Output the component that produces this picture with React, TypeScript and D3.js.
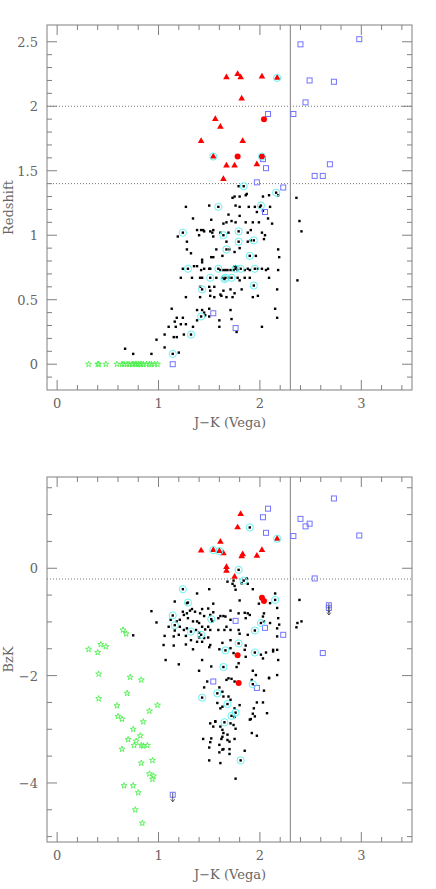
import React from 'react';
import * as d3 from 'd3';

// ---------- data (J-K, value) ----------
const topStarsJK = [0.31,0.40,0.41,0.48,0.59,0.64,0.66,0.69,0.71,0.74,0.75,0.77,0.78,0.80,0.82,0.83,0.85,0.88,0.91,0.93,0.96,0.99];
const topTriangles = [[1.67,2.225],[1.78,2.25],[1.81,2.225],[2.02,2.23],[2.17,2.22],[1.82,2.06],[1.56,1.90],[1.61,1.84],[1.42,1.73],[1.83,1.73],[1.54,1.61],[1.67,1.54],[1.75,1.54],[1.97,1.55],[1.64,1.435]];
const topRedCircles = [[2.04,1.90],[1.78,1.61],[2.02,1.61]];
const topSquares = [[2.40,2.48],[2.98,2.52],[2.49,2.20],[2.73,2.19],[2.45,2.03],[2.08,1.94],[2.33,1.94],[2.03,1.59],[2.06,1.52],[2.69,1.55],[2.54,1.46],[2.62,1.46],[1.97,1.41],[2.23,1.37],[2.05,1.18],[1.54,0.395],[1.76,0.28],[1.14,0.0]];
const topBlack = [[1.84,1.38],[1.79,1.38],[1.87,1.32],[1.86,1.31],[1.80,1.30],[1.75,1.30],[1.73,1.29],[2.09,1.31],[2.03,1.30],[2.16,1.33],[2.18,1.31],[2.36,1.29],[1.27,1.22],[1.50,1.23],[1.59,1.22],[1.76,1.23],[1.80,1.22],[1.89,1.22],[1.95,1.22],[2.00,1.22],[2.01,1.23],[2.10,1.22],[2.03,1.19],[1.97,1.18],[1.69,1.16],[1.80,1.15],[1.34,1.13],[1.52,1.12],[1.72,1.11],[1.67,1.10],[1.76,1.10],[1.64,1.09],[2.08,1.13],[1.86,1.10],[1.93,1.10],[1.99,1.10],[2.12,1.09],[2.39,1.11],[1.24,1.02],[1.38,1.04],[1.42,1.04],[1.44,1.04],[1.45,1.03],[1.51,1.03],[1.54,1.04],[1.53,1.02],[1.61,1.02],[1.64,1.00],[1.69,1.02],[1.79,1.03],[1.88,1.02],[1.91,1.04],[2.02,1.02],[2.05,1.00],[2.04,0.97],[2.41,1.03],[1.19,0.99],[1.40,1.00],[1.54,0.99],[1.79,0.95],[1.94,0.96],[1.91,0.96],[1.88,0.95],[1.67,0.95],[1.28,0.95],[2.18,0.89],[1.28,0.89],[1.57,0.89],[1.67,0.89],[1.70,0.89],[1.75,0.87],[1.80,0.90],[1.32,0.86],[1.90,0.84],[1.96,0.84],[2.19,0.83],[1.63,0.84],[1.52,0.83],[1.54,0.83],[1.43,0.81],[1.43,0.79],[1.38,0.76],[1.35,0.76],[1.75,0.76],[1.77,0.75],[1.29,0.74],[1.24,0.74],[1.42,0.73],[1.45,0.74],[1.50,0.74],[1.51,0.74],[1.59,0.74],[1.61,0.73],[1.64,0.73],[1.66,0.73],[1.68,0.73],[1.71,0.73],[1.74,0.73],[1.76,0.74],[1.81,0.74],[1.85,0.73],[1.90,0.73],[1.95,0.74],[1.98,0.74],[2.02,0.74],[2.06,0.73],[2.08,0.74],[2.18,0.73],[1.88,0.74],[1.78,0.73],[1.22,0.67],[1.33,0.67],[1.41,0.67],[1.43,0.67],[1.51,0.67],[1.57,0.67],[1.63,0.67],[1.66,0.67],[1.65,0.66],[1.69,0.67],[1.72,0.67],[1.78,0.67],[1.85,0.67],[1.90,0.67],[2.09,0.67],[2.37,0.65],[1.80,0.65],[1.43,0.58],[1.50,0.60],[1.55,0.60],[1.41,0.60],[1.51,0.57],[1.64,0.57],[1.71,0.58],[1.75,0.55],[1.82,0.58],[1.94,0.61],[2.17,0.58],[1.27,0.52],[1.41,0.52],[1.51,0.53],[1.55,0.52],[1.62,0.53],[1.67,0.52],[1.73,0.52],[1.93,0.52],[1.98,0.53],[1.61,0.54],[1.13,0.43],[1.38,0.42],[1.43,0.42],[1.45,0.40],[1.50,0.43],[1.71,0.42],[1.46,0.38],[1.42,0.37],[1.38,0.34],[1.50,0.37],[1.60,0.34],[1.18,0.36],[1.24,0.36],[1.16,0.33],[1.22,0.31],[1.27,0.31],[1.17,0.29],[1.10,0.29],[1.34,0.29],[1.60,0.29],[1.72,0.35],[2.15,0.43],[2.17,0.36],[2.02,0.29],[1.77,0.25],[1.06,0.23],[1.32,0.23],[1.25,0.23],[1.18,0.21],[1.15,0.21],[0.98,0.19],[1.06,0.13],[0.93,0.08],[1.14,0.08],[1.20,0.09],[0.67,0.12],[0.75,0.08]];
const topCyan = [[1.84,1.38],[2.16,1.33],[1.59,1.22],[2.01,1.23],[1.24,1.02],[1.64,1.00],[1.79,1.03],[1.79,0.95],[1.94,0.96],[1.67,0.89],[1.90,0.84],[1.29,0.74],[1.59,0.74],[1.76,0.74],[1.81,0.74],[1.95,0.74],[1.51,0.67],[1.66,0.67],[1.65,0.66],[1.72,0.67],[1.43,0.58],[1.94,0.61],[1.42,0.37],[1.32,0.23],[1.14,0.08],[2.17,2.22],[1.54,1.61],[2.02,1.61]];

const botStars = [[0.65,-1.15],[0.68,-1.22],[0.31,-1.51],[0.40,-1.57],[0.43,-1.42],[0.48,-1.46],[0.41,-1.97],[0.72,-2.03],[0.83,-2.08],[0.69,-2.33],[0.41,-2.43],[0.59,-2.56],[0.99,-2.55],[0.91,-2.66],[0.60,-2.76],[0.64,-2.81],[0.85,-2.86],[0.75,-3.00],[0.82,-3.12],[0.70,-3.19],[0.78,-3.22],[0.76,-3.30],[0.83,-3.30],[0.85,-3.31],[0.89,-3.30],[0.64,-3.37],[0.83,-3.63],[0.94,-3.58],[0.91,-3.83],[0.95,-3.87],[0.94,-3.93],[0.66,-4.05],[0.75,-4.05],[0.80,-4.18],[0.77,-4.50],[0.84,-4.75]];
const botTriangles = [[1.81,1.01],[1.78,0.76],[1.61,0.49],[1.42,0.33],[1.54,0.34],[1.60,0.32],[1.64,0.28],[1.83,0.26],[1.82,0.22],[2.02,0.34],[1.97,0.23],[2.17,0.55],[1.67,0.02],[1.67,-0.05],[1.75,-0.16]];
const botRedCircles = [[2.02,-0.55],[2.04,-0.61],[1.78,-1.62],[1.79,-2.14]];
const botSquares = [[2.08,1.11],[2.03,0.95],[2.06,0.66],[2.33,0.60],[2.40,0.92],[2.49,0.83],[2.45,0.78],[2.73,1.30],[2.98,0.61],[2.54,-0.19],[1.76,-0.98],[2.05,-1.11],[2.23,-1.24],[2.62,-1.58],[1.54,-2.11],[1.97,-2.23]];
const botLimits = [[2.68,-0.69],[2.68,-0.74],[1.14,-4.22]];
const botBlack = [[1.68,-0.25],[1.73,-0.29],[1.75,-0.33],[1.76,-0.40],[1.82,-0.28],[1.88,-0.29],[1.93,-0.39],[1.24,-0.39],[1.38,-0.47],[1.50,-0.39],[1.16,-0.62],[1.29,-0.64],[1.28,-0.65],[2.15,-0.59],[2.15,-0.47],[1.80,-0.60],[2.10,-0.65],[2.17,-0.74],[1.99,-0.66],[0.93,-0.80],[1.14,-0.88],[0.98,-1.01],[1.16,-1.06],[1.24,-0.81],[1.33,-0.76],[1.43,-0.76],[1.28,-0.84],[1.31,-0.79],[1.36,-0.81],[1.41,-0.84],[1.45,-0.89],[1.49,-0.75],[1.54,-0.66],[1.54,-0.82],[1.51,-0.87],[1.52,-0.95],[1.53,-0.99],[1.59,-0.93],[1.61,-0.89],[1.64,-0.89],[1.66,-0.90],[1.71,-0.79],[1.71,-0.96],[1.79,-0.84],[1.85,-0.83],[1.88,-0.84],[1.90,-0.87],[1.86,-0.93],[2.04,-0.84],[2.03,-0.90],[2.01,-1.02],[2.04,-0.99],[2.10,-1.02],[2.17,-1.12],[2.18,-0.93],[1.95,-1.16],[1.88,-1.24],[1.79,-1.15],[1.80,-1.22],[1.71,-1.15],[1.67,-1.09],[1.65,-1.15],[1.59,-1.15],[1.51,-1.15],[1.49,-1.09],[1.46,-1.14],[1.43,-1.09],[1.40,-1.02],[1.38,-0.99],[1.34,-0.99],[1.29,-0.93],[1.25,-0.87],[1.21,-0.96],[1.18,-0.99],[1.12,-0.96],[1.10,-1.09],[1.21,-1.09],[1.25,-1.15],[1.28,-1.12],[1.32,-1.18],[1.37,-1.15],[1.40,-1.20],[1.42,-1.24],[1.40,-1.29],[1.38,-1.37],[1.43,-1.37],[1.45,-1.30],[1.49,-1.29],[1.51,-1.43],[1.34,-1.51],[1.32,-1.34],[1.27,-1.26],[1.20,-1.24],[1.15,-1.27],[1.16,-1.16],[1.06,-1.26],[1.05,-1.43],[0.75,-1.25],[1.07,-1.71],[1.20,-1.79],[1.43,-1.71],[1.40,-1.91],[1.52,-1.83],[1.64,-1.84],[1.66,-1.53],[1.60,-1.51],[1.63,-1.39],[1.71,-1.34],[1.71,-1.49],[1.74,-1.58],[1.79,-1.40],[1.77,-1.84],[1.79,-1.77],[1.86,-1.65],[1.85,-1.52],[1.86,-1.44],[1.95,-1.57],[2.01,-1.61],[2.03,-1.68],[2.06,-1.57],[2.13,-1.52],[2.17,-1.52],[2.18,-1.71],[2.17,-1.99],[2.09,-2.04],[1.93,-1.91],[1.96,-1.99],[1.93,-2.16],[2.04,-2.28],[1.92,-2.08],[2.07,-2.70],[1.97,-2.50],[1.94,-2.61],[1.95,-2.76],[1.90,-2.82],[1.97,-3.12],[1.92,-3.07],[1.76,-2.69],[1.72,-2.75],[1.68,-2.53],[1.58,-2.33],[1.43,-2.41],[1.48,-2.11],[1.60,-2.22],[1.63,-2.30],[1.67,-2.08],[1.69,-2.05],[1.72,-2.06],[1.75,-2.11],[1.64,-2.39],[1.69,-2.39],[1.71,-2.45],[1.75,-2.61],[1.63,-2.58],[1.58,-2.51],[1.71,-2.89],[1.65,-2.87],[1.51,-2.89],[1.54,-2.95],[1.61,-2.95],[1.64,-3.07],[1.63,-3.14],[1.68,-3.10],[1.52,-3.17],[1.74,-2.92],[1.75,-3.18],[1.68,-3.20],[1.70,-3.23],[1.62,-3.18],[1.44,-3.18],[1.51,-3.24],[1.60,-3.29],[1.64,-3.37],[1.63,-3.38],[1.60,-3.43],[1.70,-3.37],[1.70,-3.46],[1.50,-3.34],[1.85,-3.40],[1.81,-3.58],[1.50,-3.58],[1.61,-3.63],[1.76,-3.92],[1.80,-2.55],[1.61,-2.61],[1.75,-2.77],[1.56,-2.86],[1.76,-2.99],[1.63,-3.01],[2.03,-2.50],[1.91,-2.81],[1.93,-2.71],[1.90,0.76],[1.79,-0.03],[1.84,-0.23],[2.39,-0.59],[2.36,-1.10],[2.37,-1.02],[2.41,-0.99],[2.19,-1.05],[2.17,-1.27],[2.13,-1.55],[2.09,-2.05],[1.87,-0.19],[1.74,-0.23],[1.45,-2.22],[1.56,-2.85],[1.15,-1.44],[1.27,-1.42],[1.50,-1.47]];
const botCyan = [[1.90,0.76],[1.54,0.34],[1.60,0.32],[2.17,0.55],[1.79,-0.03],[1.84,-0.23],[1.24,-0.39],[1.29,-0.64],[2.15,-0.59],[1.14,-0.88],[1.16,-1.06],[1.52,-0.95],[2.01,-1.02],[1.95,-1.16],[1.32,-1.18],[1.42,-1.24],[1.64,-1.84],[1.66,-1.53],[1.79,-1.40],[1.95,-1.57],[1.93,-2.16],[1.76,-2.69],[1.72,-2.75],[1.68,-2.53],[1.58,-2.33],[1.43,-2.41],[1.65,-2.87],[1.81,-3.58]];

const xTickLabels = ['0', '1', '2', '3'];
const topYTickLabels = ['0', '0.5', '1', '1.5', '2', '2.5'];
const botYTickLabels = ['−4', '−2', '0'];
const topHLines = [2.0, 1.4];
const botHLines = [-0.2];
const colorCut = 2.3;

const FONT = '"DejaVu Serif", "Liberation Serif", serif';
const FRAME = '#808080';
const TXT = '#666';

const x = d3.scaleLinear().domain([-0.1, 3.5]).range([47, 412]);
const yTop = d3.scaleLinear().domain([-0.2, 2.63]).range([390, 25]);
const yBot = d3.scaleLinear().domain([-5.1, 1.7]).range([842, 477]);

const starPath = d3.symbol().type(d3.symbolStar).size(11)()!;
const triPath = d3.symbol().type(d3.symbolTriangle).size(19)()!;

function Frame({ y, yMinor, yMajor, yLabels, yLabelVals, title }: any) {
  const [y0, y1] = y.range();
  const xMinor = d3.range(0, 3.41, 0.2).map((v: number) => +v.toFixed(2));
  const xMajor = [0, 1, 2, 3];
  return (
    <g>
      <rect x={47} y={y1} width={365} height={y0 - y1} fill="none" stroke={FRAME} strokeWidth={1} />
      {xMinor.map((v: number, i: number) => {
        const len = xMajor.includes(v) ? 10 : 5;
        return (
          <g key={'xm' + i} stroke={FRAME}>
            <line x1={x(v)} x2={x(v)} y1={y0} y2={y0 - len} />
            <line x1={x(v)} x2={x(v)} y1={y1} y2={y1 + len} />
          </g>
        );
      })}
      {yMinor.map((v: number, i: number) => {
        const len = yMajor.some((m: number) => Math.abs(m - v) < 1e-6) ? 10 : 5;
        return (
          <g key={'ym' + i} stroke={FRAME}>
            <line x1={47} x2={47 + len} y1={y(v)} y2={y(v)} />
            <line x1={412} x2={412 - len} y1={y(v)} y2={y(v)} />
          </g>
        );
      })}
      {xMajor.map((v, i) => (
        <text key={'xl' + i} x={x(v)} y={y0 + 18} textAnchor="middle" fontFamily={FONT} fontSize={13} fill={TXT}>{xTickLabels[i]}</text>
      ))}
      {yLabelVals.map((v: number, i: number) => (
        <text key={'yl' + i} x={38} y={y(v) + 5} textAnchor="end" fontFamily={FONT} fontSize={13} fill={TXT}>{yLabels[i]}</text>
      ))}
      <text x={230} y={y0 + 37} textAnchor="middle" fontFamily={FONT} fontSize={13} fill={TXT}>J−K (Vega)</text>
      <text transform={`translate(13,${(y0 + y1) / 2}) rotate(-90)`} textAnchor="middle" fontFamily={FONT} fontSize={13} fill={TXT}>{title}</text>
    </g>
  );
}

function Marks({ y, black, tri, red, sq, cyan, stars, limits, hlines }: any) {
  const [y0, y1] = y.range();
  return (
    <g>
      {hlines.map((h: number, i: number) => (
        <line key={'h' + i} x1={47} x2={412} y1={y(h)} y2={y(h)} stroke="#777" strokeWidth={1} strokeDasharray="1,2" />
      ))}
      <line x1={x(colorCut)} x2={x(colorCut)} y1={y1} y2={y0} stroke={FRAME} strokeWidth={1} />
      {stars.map((d: number[], i: number) => (
        <path key={'s' + i} d={starPath} transform={`translate(${x(d[0])},${y(d[1])})`} fill="none" stroke="#4ef04e" strokeWidth={0.9} />
      ))}
      {black.map((d: number[], i: number) => (
        <rect key={'b' + i} x={x(d[0]) - 1.2} y={y(d[1]) - 1.2} width={2.4} height={2.4} fill="#000" />
      ))}
      {sq.map((d: number[], i: number) => (
        <rect key={'q' + i} x={x(d[0]) - 2.5} y={y(d[1]) - 2.5} width={5} height={5} fill="none" stroke="#7373ff" strokeWidth={1} />
      ))}
      {limits.map((d: number[], i: number) => {
        const cx = x(d[0]), cy = y(d[1]);
        return (
          <g key={'l' + i}>
            <rect x={cx - 2.5} y={cy - 2.5} width={5} height={5} fill="none" stroke="#7373ff" strokeWidth={1} />
            <line x1={cx} x2={cx} y1={cy - 2} y2={cy + 7} stroke="#333" strokeWidth={0.8} />
            <path d={`M${cx - 2},${cy + 4.5} L${cx},${cy + 7} L${cx + 2},${cy + 4.5}`} fill="none" stroke="#333" strokeWidth={0.8} />
          </g>
        );
      })}
      {tri.map((d: number[], i: number) => (
        <path key={'t' + i} d={triPath} transform={`translate(${x(d[0])},${y(d[1])})`} fill="#f00" />
      ))}
      {red.map((d: number[], i: number) => (
        <circle key={'r' + i} cx={x(d[0])} cy={y(d[1])} r={3} fill="#f00" />
      ))}
      {cyan.map((d: number[], i: number) => (
        <circle key={'c' + i} cx={x(d[0])} cy={y(d[1])} r={3.6} fill="none" stroke="#66f2f2" strokeWidth={1} />
      ))}
    </g>
  );
}

export default function App() {
  const topMinor = d3.range(-1, 26).map((v: number) => v / 10);
  const topMajor = [0, 0.5, 1, 1.5, 2, 2.5];
  const botMinor = d3.range(-10, 4).map((v: number) => v / 2);
  const botMajor = [-4, -2, 0];
  const topStars = topStarsJK.map((v) => [v, 0]);
  return (
    <svg width={436} height={889} style={{ position: 'absolute', left: 0, top: 0, background: '#fff' }}>
      <rect width={436} height={889} fill="#fff" />
      <Marks y={yTop} black={topBlack} tri={topTriangles} red={topRedCircles} sq={topSquares} cyan={topCyan} stars={topStars} limits={[]} hlines={topHLines} />
      <Frame y={yTop} yMinor={topMinor} yMajor={topMajor} yLabels={topYTickLabels} yLabelVals={topMajor} title="Redshift" />
      <Marks y={yBot} black={botBlack} tri={botTriangles} red={botRedCircles} sq={botSquares} cyan={botCyan} stars={botStars} limits={botLimits} hlines={botHLines} />
      <Frame y={yBot} yMinor={botMinor} yMajor={botMajor} yLabels={botYTickLabels} yLabelVals={botMajor} title="BzK" />
    </svg>
  );
}
